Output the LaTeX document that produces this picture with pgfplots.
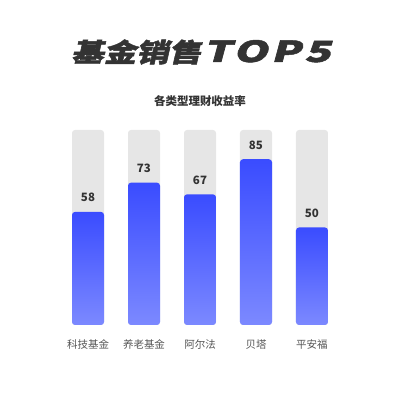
\documentclass[border=0pt]{standalone}
\usepackage{fontspec}
\usepackage{pgfplots}
\pgfplotsset{compat=1.18}
\setmainfont{Noto Sans CJK SC}
\newfontfamily\titlefont[FakeSlant=0.18,FakeBold=1.6]{Noto Sans CJK SC}

\definecolor{barTop}{RGB}{58,76,255}
\definecolor{barBot}{RGB}{124,137,255}
\definecolor{bgBar}{RGB}{230,230,230}
\definecolor{txtDark}{RGB}{51,51,51}
\definecolor{txtMid}{RGB}{85,85,85}

\begin{document}
\begin{tikzpicture}
\path[use as bounding box] (0,0) rectangle (400pt,400pt);

\node[text=txtDark] at (201pt,348pt)
  {\titlefont\bfseries\fontsize{26}{28}\selectfont\scalebox{1.25}[1]{基金销售}\hspace{2pt}%
   \scalebox{1.5}[1]{\fontsize{29}{30}\selectfont\addfontfeature{LetterSpace=8}TOP5}};
\node[text=txtDark] at (200pt,299pt)
  {\bfseries\fontsize{11.5}{13}\selectfont 各类型理财收益率};

\begin{axis}[
    at={(60pt,75pt)}, anchor=south west,
    scale only axis,
    width=280pt, height=195pt,
    xmin=-0.5, xmax=4.5,
    ymin=0, ymax=100,
    clip=false,
    axis line style={draw=none},
    tick style={draw=none},
    ytick=\empty,
    xtick={0,1,2,3,4},
    xticklabels={科技基金,养老基金,阿尔法,贝塔,平安福},
    xticklabel style={anchor=base, yshift=-19pt, text=txtMid,
        font=\fontsize{10.5}{12}\selectfont},
    /pgf/number format/assume math mode=true,
    ybar, bar width=32pt,
    bluebar/.style={bar shift=0pt, draw=none, rounded corners=3pt,
        top color=barTop, bottom color=barBot,
        nodes near coords,
        every node near coord/.append style={anchor=base, yshift=10pt,
            text=txtDark, font=\bfseries\fontsize{11.5}{13}\selectfont}},
]
% gray background bars
\addplot[bar shift=0pt, draw=none, fill=bgBar, rounded corners=3pt]
    coordinates {(0,100) (1,100) (2,100) (3,100) (4,100)};
% blue bars, one plot each so every bar gets its own gradient
\addplot[bluebar] coordinates {(0,58)};
\addplot[bluebar] coordinates {(1,73)};
\addplot[bluebar] coordinates {(2,67)};
\addplot[bluebar] coordinates {(3,85)};
\addplot[bluebar] coordinates {(4,50)};
\end{axis}
\end{tikzpicture}
\end{document}
